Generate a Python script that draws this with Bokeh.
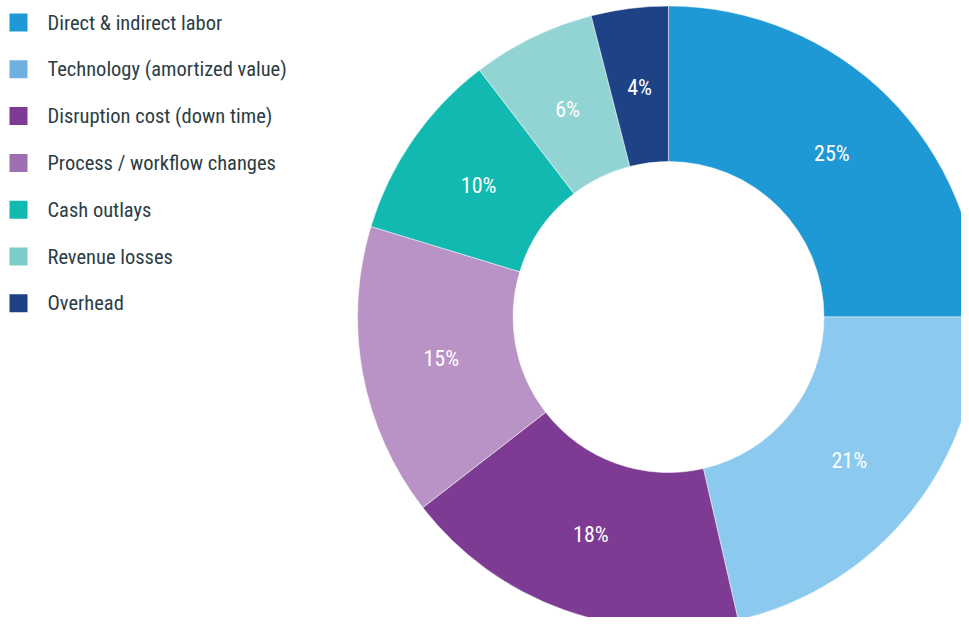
import numpy as np
from bokeh.plotting import figure
from bokeh.models import ColumnDataSource
from bokeh.core.properties import value
from bokeh.embed import file_html
from bokeh.resources import INLINE

categories = ["Direct & indirect labor", "Technology (amortized value)",
              "Disruption cost (down time)", "Process / workflow changes",
              "Cash outlays", "Revenue losses", "Overhead"]
# shares
values = [25.0, 21.4, 18.1, 15.2, 9.9, 6.4, 4.0]
# percentages as printed on the slices
pct_labels = ["25%", "21%", "18%", "15%", "10%", "6%", "4%"]
slice_colors = ["#1F99D5", "#8BC9EE", "#7E3B94", "#B993C5", "#12B9B0", "#92D4D3", "#1D4386"]
legend_colors = ["#1F99D5", "#6EB0E0", "#7E3B94", "#9E6FB0", "#12B9B0", "#7ACDC8", "#1D4386"]

FONT = "Roboto Condensed"
W, H = 961, 617
cx, cy = 668, 300.5
r_out, r_in = 311, 155.5

vals = np.array(values, dtype=float)
frac = vals / vals.sum()
cum_end = np.cumsum(frac)
cum_start = cum_end - frac
start = np.pi / 2 - cum_start * 2 * np.pi
end = np.pi / 2 - cum_end * 2 * np.pi
mid = (start + end) / 2
r_lab = 231

src = ColumnDataSource(dict(start=start, end=end, color=slice_colors,
                            lx=cx + r_lab * np.cos(mid), ly=cy + r_lab * np.sin(mid),
                            label=pct_labels))

p = figure(width=W, height=H, x_range=(0, W), y_range=(0, H), min_border=0,
           toolbar_location=None, output_backend="svg")
p.axis.visible = False
p.grid.visible = False
p.outline_line_color = None
p.background_fill_color = "white"

p.annular_wedge(x=cx, y=cy, inner_radius=r_in, outer_radius=r_out,
                start_angle="start", end_angle="end", direction="clock",
                fill_color="color", line_color="white", line_width=0.5, source=src)
p.text(x="lx", y="ly", text="label", source=src, text_align="center",
       text_baseline="middle", text_color="white", text_font=value(FONT),
       text_font_size="22px")

# legend
n = len(categories)
row_gap = 46.8
ly = [595 - i * row_gap for i in range(n)]
leg = ColumnDataSource(dict(x=[18] * n, y=ly, tx=[47] * n, c=legend_colors, t=categories))
p.rect(x="x", y="y", width=18, height=18, fill_color="c", line_color=None, source=leg)
p.text(x="tx", y="y", text="t", source=leg, text_align="left", text_baseline="middle",
       text_color="#2B3D45", text_font=value(FONT), text_font_size="20.5px")

open("out.html", "w").write(file_html(p, INLINE))
